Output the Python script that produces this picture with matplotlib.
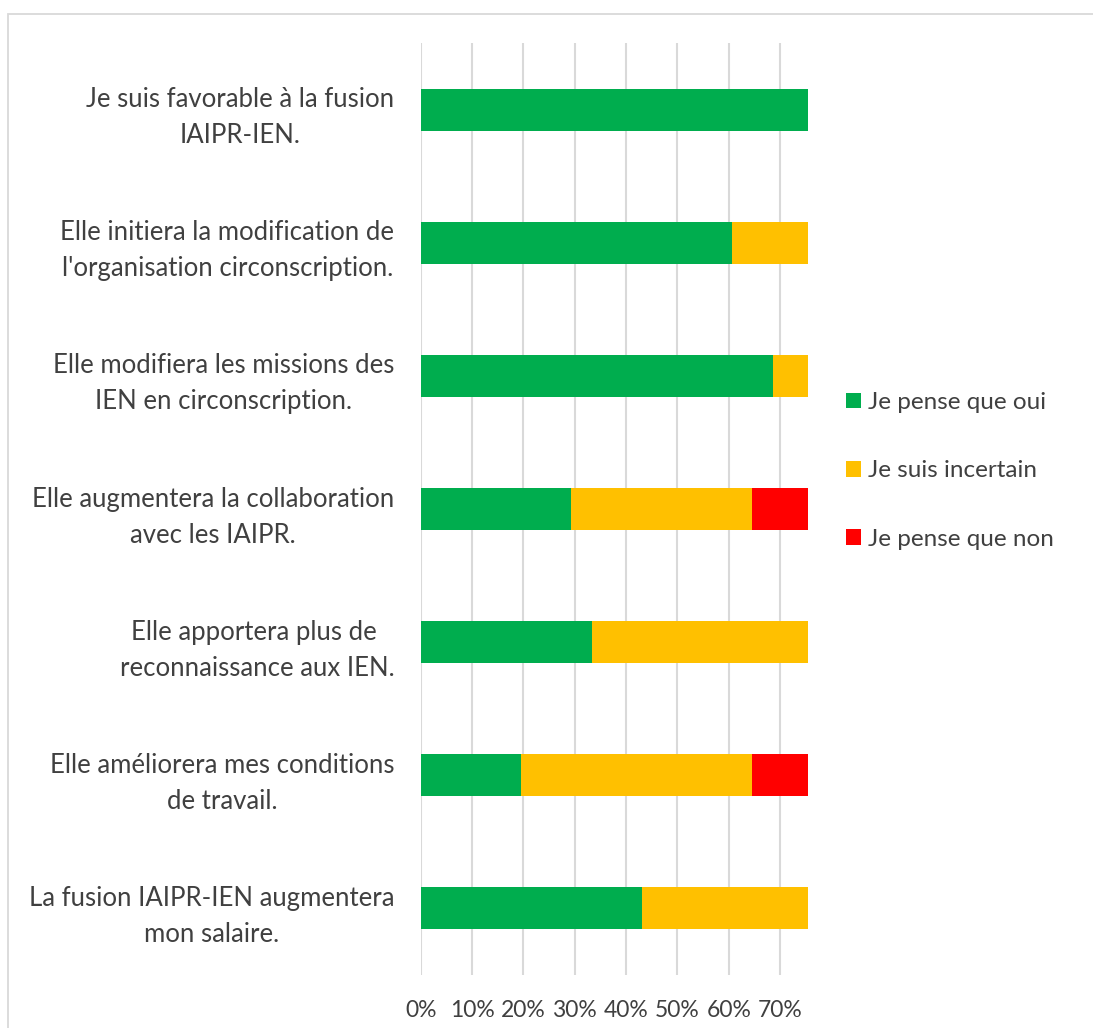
import matplotlib
matplotlib.use("Agg")
import matplotlib.pyplot as plt
from matplotlib.patches import Rectangle
from matplotlib.ticker import FuncFormatter, MultipleLocator
import numpy as np

categories = [
    "Je suis favorable à la fusion\nIAIPR-IEN.",
    "Elle initiera la modification de\nl'organisation circonscription.",
    "Elle modifiera les missions des\nIEN en circonscription.",
    "Elle augmentera la collaboration\navec les IAIPR.",
    "Elle apportera plus de \nreconnaissance aux IEN.",
    "Elle améliorera mes conditions\nde travail.",
    "La fusion IAIPR-IEN augmentera\nmon salaire.",
]
oui = [75.45, 60.6, 68.6, 29.3, 33.4, 19.5, 43.1]
incertain = [0.0, 14.85, 6.85, 35.3, 42.05, 45.0, 32.35]
non = [0.0, 0.0, 0.0, 10.85, 0.0, 10.95, 0.0]
series_names = ["Je pense que oui", "Je suis incertain", "Je pense que non"]
colors = ["#00AD4E", "#FFC000", "#FF0000"]

plt.rcParams['font.family'] = ['Lato', 'DejaVu Sans']
txt = "#404040"

fig = plt.figure(figsize=(10.93, 10.28), dpi=100)
fig.patches.append(Rectangle((8/1093, -0.05), 1.2, (1028-14)/1028 + 0.05,
                             transform=fig.transFigure, fill=False,
                             edgecolor="#d9d9d9", linewidth=1.3, zorder=0))
ax = fig.add_axes([420.7/1093, 53/1028, (808-420.7)/1093, (985-53)/1028])

y = np.arange(len(categories))
o = np.array(oui) / 100
i = np.array(incertain) / 100
n = np.array(non) / 100
h = 0.315
ax.barh(y, o, height=h, color=colors[0], label=series_names[0], zorder=3)
ax.barh(y, i, left=o, height=h, color=colors[1], label=series_names[1], zorder=3)
ax.barh(y, n, left=o + i, height=h, color=colors[2], label=series_names[2], zorder=3)

ax.set_xlim(0, 0.7545)
ax.set_ylim(len(categories) - 0.5, -0.5)
ax.xaxis.set_major_locator(MultipleLocator(0.1))
ax.xaxis.set_major_formatter(FuncFormatter(lambda v, p: f"{v*100:.0f}%"))
ax.grid(axis='x', color="#d9d9d9", linewidth=1.5, zorder=0)
ax.set_axisbelow(True)
for s in ax.spines.values():
    s.set_visible(False)
ax.set_yticks(y)
ax.set_yticklabels(categories, fontsize=18.5, color=txt, linespacing=1.55)
for t in ax.get_yticklabels():
    t.set_multialignment('center')
ax.tick_params(axis='y', length=0, pad=19)
ax.tick_params(axis='x', length=0, pad=18, labelsize=16.5, labelcolor=txt)

fig.legend(loc='center left', bbox_to_anchor=(846/1093, 1 - 471/1028),
           frameon=False, fontsize=17.5, labelcolor=txt, handlelength=0.62,
           handleheight=0.62, handletextpad=0.3, labelspacing=1.95,
           borderpad=0, borderaxespad=0)

fig.savefig("out.png", dpi=100)
